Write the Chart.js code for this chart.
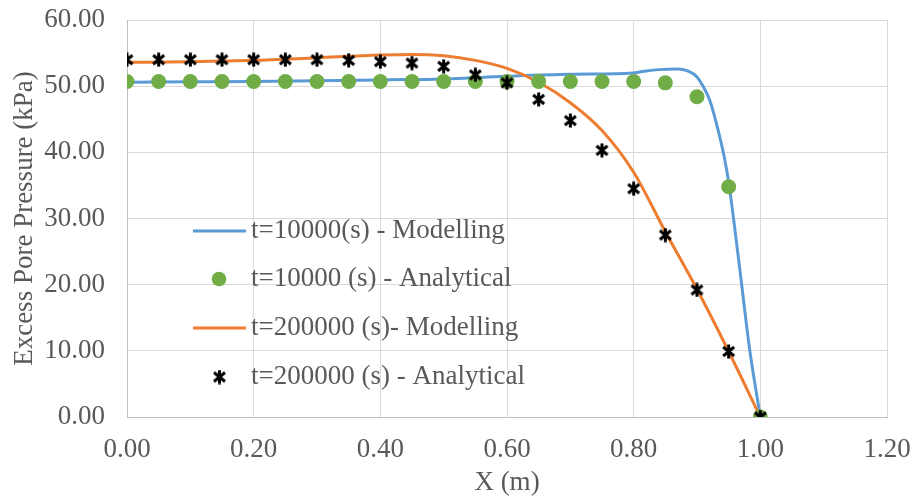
<!DOCTYPE html>
<html>
<head>
<meta charset="utf-8">
<script src="https://cdn.jsdelivr.net/npm/chart.js@4/dist/chart.umd.min.js"></script>
<style>
html,body{margin:0;padding:0;background:#fff;}
#wrap{width:912px;height:496px;position:relative;}
</style>
</head>
<body>
<div id="wrap"><canvas id="c" width="912" height="496"></canvas></div>
<script>
// ---- data ----
const seriesLabels = [
  "t=10000(s) - Modelling",
  "t=10000 (s) - Analytical",
  "t=200000 (s)- Modelling",
  "t=200000 (s) - Analytical"
];
const xAnalytical = [0,0.05,0.1,0.15,0.2,0.25,0.3,0.35,0.4,0.45,0.5,0.55,0.6,0.65,0.7,0.75,0.8,0.85,0.9,0.95,1.0];
const analytical10000 = [50.7,50.7,50.7,50.7,50.7,50.7,50.7,50.7,50.7,50.7,50.7,50.7,50.7,50.7,50.7,50.7,50.7,50.5,48.4,34.8,0];
const analytical200000 = [54.0,54.0,54.0,54.0,54.0,54.0,54.0,53.9,53.7,53.5,53.0,51.7,50.5,48.0,44.8,40.3,34.5,27.5,19.2,9.9,0];
const xModel10000 = [0,0.1,0.2,0.3,0.4,0.5,0.6,0.7,0.8,0.82,0.84,0.87,0.885,0.9,0.91,0.92,0.93,0.943,0.95,0.967,0.983,1.0];
const model10000 = [50.6,50.65,50.7,50.8,50.95,51.1,51.5,51.8,52.0,52.3,52.5,52.6,52.3,51.4,49.9,47.9,44.6,39.3,35.5,22.8,10.3,0];
const xModel200000 = [0,0.1,0.2,0.3,0.4,0.45,0.5,0.55,0.6,0.65,0.7,0.75,0.8,0.85,0.9,0.95,1.0];
const model200000 = [53.6,53.7,53.9,54.3,54.7,54.8,54.6,53.9,52.7,50.6,47.5,43.3,37.0,28.0,19.3,9.9,0];
const xTicks = [0,0.2,0.4,0.6,0.8,1.0,1.2];
const yTicks = [0,10,20,30,40,50,60];

const pairs = (xs, ys) => xs.map((x, i) => ({x: x, y: ys[i]}));

// star marker (X with vertical bar)
function makeStar(size) {
  const cv = document.createElement('canvas');
  cv.width = size; cv.height = size;
  const g = cv.getContext('2d');
  g.strokeStyle = '#000'; g.lineWidth = 3; g.lineCap = 'butt';
  const m = 2, s = size - 2;
  g.beginPath();
  g.moveTo(size/2, 0.5); g.lineTo(size/2, size - 0.5);
  g.moveTo(m, m + 1); g.lineTo(s, s - 1);
  g.moveTo(s, m + 1); g.lineTo(m, s - 1);
  g.stroke();
  return cv;
}
const starImg = makeStar(15);

const FONT = "'Liberation Serif', 'Times New Roman', serif";
const FS = 27;
const TXT = '#595959';

const colors = ['#5B9BD5', '#70AD47', '#ED7D31', '#000000'];

const insideLegend = {
  id: 'insideLegend',
  afterDatasetsDraw(chart) {
    const ctx = chart.ctx;
    const rowsY = [231, 279, 328, 377];
    ctx.save();
    ctx.font = FS + "px " + FONT;
    ctx.textBaseline = 'middle';
    seriesLabels.forEach((lab, i) => {
      const y = rowsY[i];
      if (i === 0 || i === 2) {
        ctx.strokeStyle = colors[i];
        ctx.lineWidth = 3;
        ctx.beginPath(); ctx.moveTo(193, y); ctx.lineTo(246, y); ctx.stroke();
      } else if (i === 1) {
        ctx.fillStyle = colors[1];
        ctx.beginPath(); ctx.arc(219, y, 7.3, 0, Math.PI*2); ctx.fill();
      } else {
        ctx.drawImage(starImg, 219.5 - 7.5, y - 7.5);
      }
      ctx.fillStyle = TXT;
      ctx.fillText(lab, 251, y);
    });
    ctx.restore();
  }
};

new Chart(document.getElementById('c'), {
  type: 'scatter',
  data: {
    datasets: [
      {label: seriesLabels[0], data: pairs(xModel10000, model10000), showLine: true,
       borderColor: colors[0], borderWidth: 3, pointRadius: 0, cubicInterpolationMode: 'monotone', order: 3},
      {label: seriesLabels[1], data: pairs(xAnalytical, analytical10000), showLine: false,
       backgroundColor: colors[1], borderColor: colors[1], pointRadius: 7.5, borderWidth: 0, order: 1},
      {label: seriesLabels[2], data: pairs(xModel200000, model200000), showLine: true,
       borderColor: colors[2], borderWidth: 3, pointRadius: 0, cubicInterpolationMode: 'monotone', order: 2},
      {label: seriesLabels[3], data: pairs(xAnalytical, analytical200000), showLine: false,
       pointStyle: starImg, pointRadius: 7.5, order: 0}
    ]
  },
  options: {
    responsive: false,
    animation: false,
    events: [],
    layout: {padding: {top: 20, right: 25, left: 9, bottom: 0}},
    plugins: {legend: {display: false}, tooltip: {enabled: false}},
    scales: {
      x: {
        type: 'linear', min: 0, max: 1.2,
        afterBuildTicks: (s) => { s.ticks = xTicks.map(v => ({value: v})); },
        afterFit: (s) => { s.height = 79; s.paddingLeft = 0; s.paddingRight = 0; },
        grid: {color: '#d9d9d9', lineWidth: 1, drawTicks: false},
        border: {color: '#bfbfbf', width: 1},
        ticks: {color: TXT, font: {family: FONT, size: FS}, padding: 17,
                maxRotation: 0, callback: (v) => Number(v).toFixed(2)},
        title: {display: true, text: 'X (m)', color: TXT, font: {family: FONT, size: FS}, padding: {top: 0, bottom: -3}}
      },
      y: {
        type: 'linear', min: 0, max: 60,
        afterBuildTicks: (s) => { s.ticks = yTicks.map(v => ({value: v})); },
        afterFit: (s) => { s.width = 118; s.paddingTop = 0; s.paddingBottom = 0; },
        grid: {color: '#d9d9d9', lineWidth: 1, drawTicks: false},
        border: {color: '#bfbfbf', width: 1},
        ticks: {color: TXT, font: {family: FONT, size: FS}, padding: 22,
                callback: (v) => Number(v).toFixed(2)},
        title: {display: true, text: 'Excess Pore Pressure (kPa)', color: TXT, font: {family: FONT, size: FS}, padding: {top: 0, bottom: 0}}
      }
    }
  },
  plugins: [insideLegend]
});
</script>
</body>
</html>
